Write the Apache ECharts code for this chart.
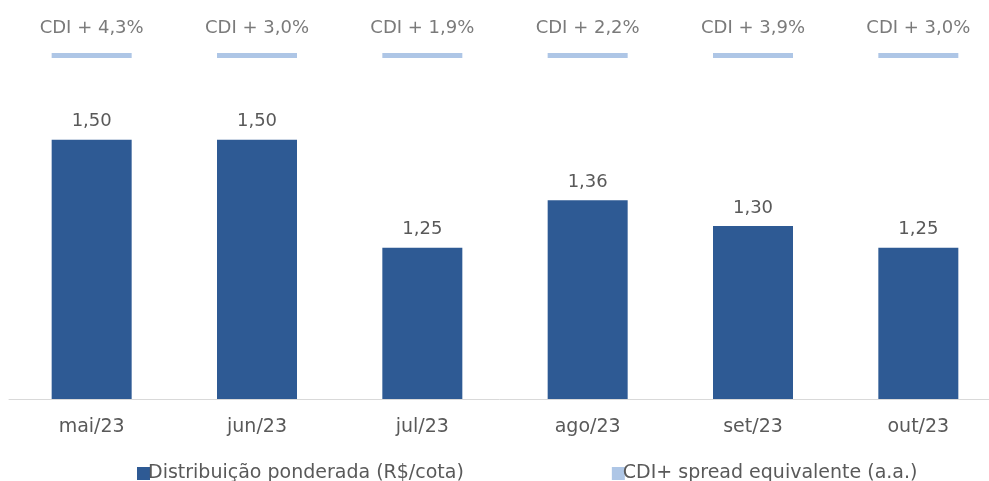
<!DOCTYPE html>
<html>
<head>
<meta charset="utf-8">
<script src="https://cdn.jsdelivr.net/npm/echarts@6/dist/echarts.min.js"></script>
<style>
  html, body { margin: 0; padding: 0; background: #fff; }
  #chart { width: 989px; height: 481px; }
</style>
</head>
<body>
<div id="chart"></div>
<script>
// dados
var categorias = ['mai/23', 'jun/23', 'jul/23', 'ago/23', 'set/23', 'out/23'];
var distribuicao = [1.50, 1.50, 1.25, 1.36, 1.30, 1.25];
var spreadCdi = [4.3, 3.0, 1.9, 2.2, 3.9, 3.0];
var nivelSpread = 1.695; // altura onde o traço do spread fica

function virgula(v, casas) {
    return v.toFixed(casas).replace('.', ',');
}

var fonte = 'DejaVu Sans';
var cinza = '#595959';

var option = {
    animation: false,
    textStyle: { fontFamily: fonte },
    grid: { left: 9, width: 992, top: 10, bottom: 82, outerBoundsMode: 'none' },
    legend: {
        top: 459,
        left: 132,
        itemGap: 148,
        itemWidth: 13,
        itemHeight: 13,
        icon: 'rect',
        textStyle: { fontFamily: fonte, fontSize: 19, color: cinza, padding: [0, 0, 0, -7] },
        data: ['Distribuição ponderada (R$/cota)', 'CDI+ spread equivalente (a.a.)']
    },
    xAxis: {
        type: 'category',
        data: categorias,
        axisLine: { lineStyle: { color: '#d9d9d9', width: 1 } },
        axisTick: { show: false },
        axisLabel: { fontSize: 19, color: cinza, margin: 19, fontFamily: fonte }
    },
    yAxis: {
        type: 'value',
        min: 0.9,
        max: 1.8,
        show: false,
        splitLine: { show: false }
    },
    series: [
        {
            name: 'Distribuição ponderada (R$/cota)',
            type: 'bar',
            data: distribuicao,
            barWidth: 80,
            itemStyle: { color: '#2E5A94' },
            label: {
                show: true,
                position: 'top',
                distance: 9,
                fontSize: 18,
                color: cinza,
                fontFamily: fonte,
                formatter: function (p) { return virgula(p.value, 2); }
            }
        },
        {
            name: 'CDI+ spread equivalente (a.a.)',
            type: 'scatter',
            symbol: 'rect',
            symbolSize: [80, 5],
            itemStyle: { color: '#9AB8E0' },
            data: spreadCdi.map(function (s, i) { return [categorias[i], nivelSpread, s]; }),
            label: {
                show: true,
                position: 'top',
                distance: 16,
                fontSize: 18,
                color: cinza,
                fontFamily: fonte,
                formatter: function (p) { return 'CDI + ' + virgula(p.value[2], 1) + '%'; }
            }
        }
    ]
};

var myChart = echarts.init(document.getElementById('chart'));
myChart.setOption(option);
</script>
</body>
</html>
